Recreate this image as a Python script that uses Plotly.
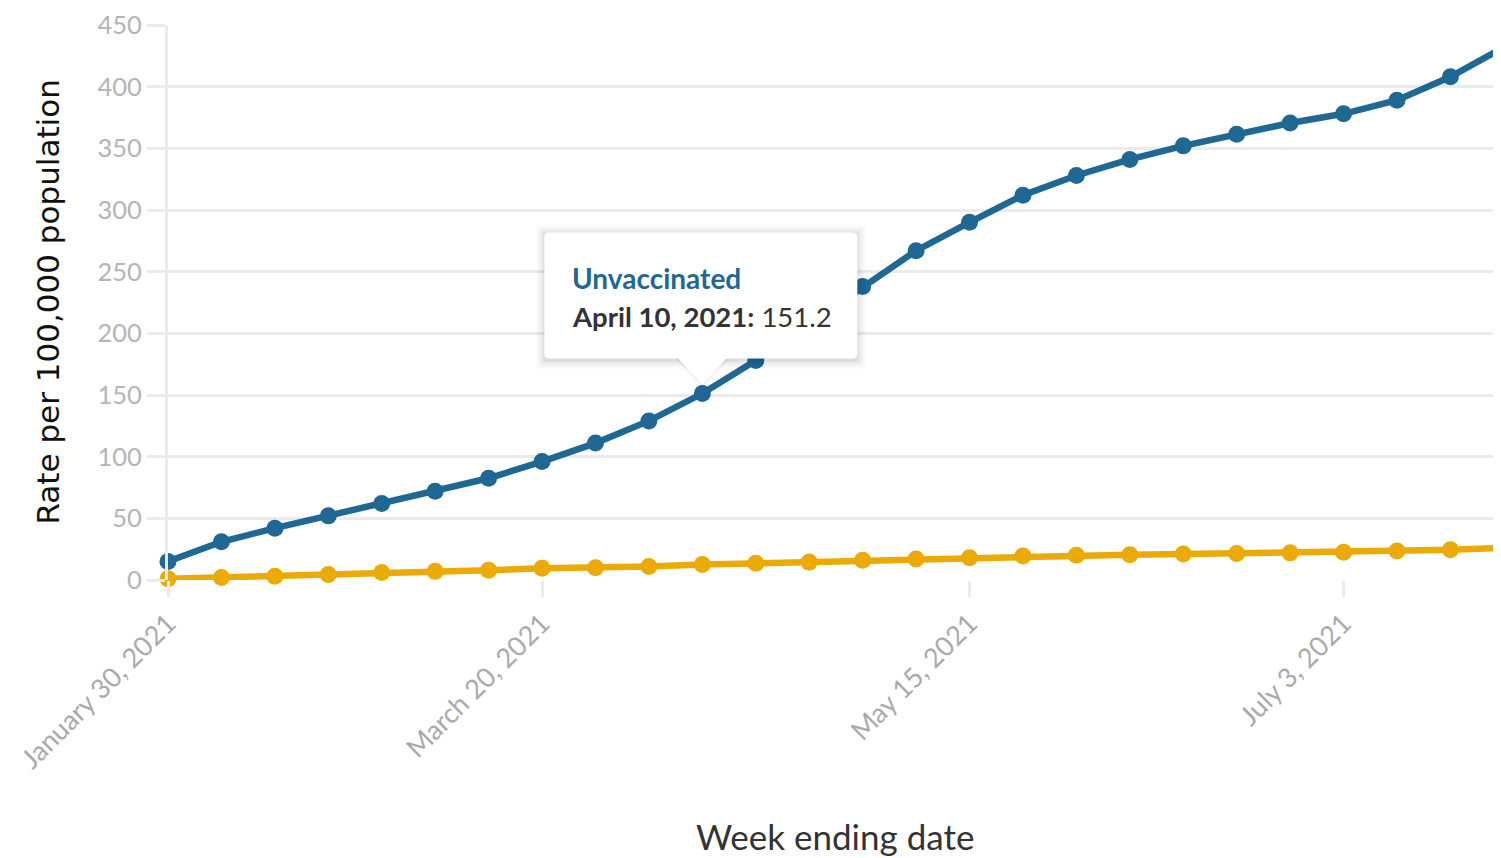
import plotly.graph_objects as go
import pandas as pd

weeks = pd.date_range("2021-01-30", periods=26, freq="7D")
unvaccinated = [15, 31, 42, 52, 62, 72, 82.5, 96, 111, 129, 151.2, 178, 208, 238, 267, 290,
                312, 328, 341, 352, 361.5, 370.5, 378, 389, 408, 432]
vaccinated = [1, 2, 3, 4.5, 6, 7, 8, 9.5, 10, 11, 12.5, 13.5, 14.5, 16, 17, 18,
              19.5, 20, 20.5, 21, 21.5, 22, 22.5, 23.5, 24.5, 26]
tick_dates = ["2021-01-30", "2021-03-20", "2021-05-15", "2021-07-03"]
tick_text = ["January 30, 2021", "March 20, 2021", "May 15, 2021", "July 3, 2021"]
y_ticks = list(range(0, 451, 50))

BLUE = "#1f6894"
GOLD = "#ebaa05"
GRID = "#ebebeb"
FONT = "Lato, Open Sans, sans-serif"

fig = go.Figure()
fig.add_trace(go.Scatter(x=weeks, y=vaccinated, mode="lines+markers", name="Vaccinated", cliponaxis=False,
                         line=dict(color=GOLD, width=6.5), marker=dict(color=GOLD, size=17)))
fig.add_trace(go.Scatter(x=weeks, y=unvaccinated, mode="lines+markers", name="Unvaccinated", cliponaxis=False,
                         line=dict(color=BLUE, width=6.5), marker=dict(color=BLUE, size=17)))

# tooltip at the hovered point
hx, hy = weeks[10], unvaccinated[10]
for pad, op in [(9, 0.012), (7, 0.018), (5, 0.025), (3, 0.035), (1, 0.045)]:
    fig.add_shape(type="rect", xref="x", yref="y", xsizemode="pixel", ysizemode="pixel",
                  xanchor=hx, yanchor=hy, x0=-158 - pad, x1=155 + pad, y0=35 - pad - 2, y1=161 + pad - 1,
                  fillcolor=f"rgba(0,0,0,{op})", line=dict(width=0), layer="above")
fig.add_shape(type="path", xref="x", yref="y", xsizemode="pixel", ysizemode="pixel",
              xanchor=hx, yanchor=hy,
              path="M -28 36 L 0 6 L 28 36 Z", fillcolor="rgba(0,0,0,0.05)", line=dict(width=0), layer="above")
fig.add_shape(type="path", xref="x", yref="y", xsizemode="pixel", ysizemode="pixel",
              xanchor=hx, yanchor=hy,
              path="M -153 35 L 150 35 Q 155 35 155 40 L 155 156 Q 155 161 150 161 L -153 161 Q -158 161 -158 156 L -158 40 Q -158 35 -153 35 Z",
              fillcolor="white", line=dict(width=0), layer="above")
fig.add_shape(type="path", xref="x", yref="y", xsizemode="pixel", ysizemode="pixel",
              xanchor=hx, yanchor=hy,
              path="M -25 36 L 0 9 L 25 36 Z", fillcolor="white", line=dict(width=0), layer="above")
fig.add_annotation(x=hx, y=hy, xref="x", yref="y", text="<b>Unvaccinated</b>", showarrow=False,
                   xanchor="left", yanchor="middle", xshift=-132, yshift=116,
                   font=dict(family=FONT, size=28, color=BLUE))
fig.add_annotation(x=hx, y=hy, xref="x", yref="y", text=f"<b>April 10, 2021:</b> {hy}", showarrow=False,
                   xanchor="left", yanchor="middle", xshift=-132, yshift=77,
                   font=dict(family=FONT, size=27.5, color="#333333"))

# axis titles
fig.add_annotation(x=0.5, y=0, xref="paper", yref="paper", text="Week ending date", showarrow=False,
                   xanchor="center", yanchor="middle", yshift=-256,
                   font=dict(family=FONT, size=35, color="#333333"))
fig.add_annotation(x=0, y=0.5, xref="paper", yref="paper", text="Rate per 100,000 population", showarrow=False,
                   textangle=-90, xanchor="center", yanchor="middle", xshift=-121,
                   font=dict(family="DejaVu Sans", size=31, color="#111111"))

fig.update_layout(
    width=1493, height=850,
    margin=dict(l=160, r=0, t=17, b=278),
    plot_bgcolor="white", paper_bgcolor="white",
    showlegend=False,
    font=dict(family=FONT),
)
fig.update_xaxes(
    range=["2021-01-30", "2021-07-23 15:00"],
    tickvals=tick_dates, ticktext=tick_text, tickangle=-45,
    ticks="outside", ticklen=16, tickwidth=3, tickcolor=GRID,
    tickfont=dict(family=FONT, size=27, color="#aaaaaa"),
    showgrid=False, zeroline=False, showline=False,
)
fig.update_yaxes(
    range=[0, 450], tickvals=y_ticks,
    ticks="outside", ticklen=18, tickwidth=3, tickcolor=GRID,
    tickfont=dict(family=FONT, size=25.5, color="#b5b5b5"),
    showgrid=True, gridcolor=GRID, gridwidth=3, zeroline=False,
    showline=True, linecolor=GRID, linewidth=3,
)
fig.write_html("out.html")
